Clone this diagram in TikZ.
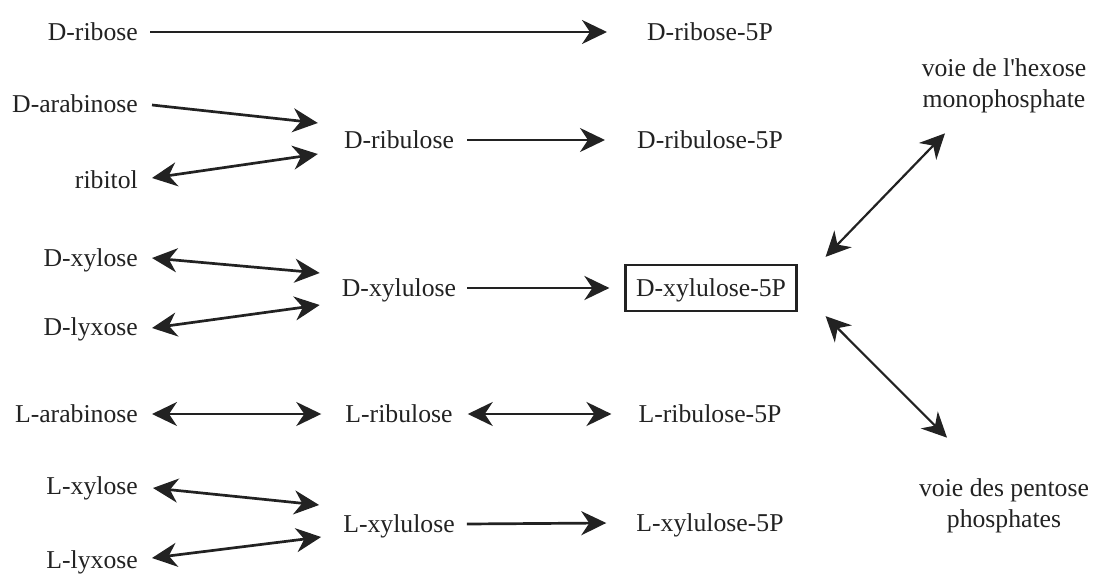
\documentclass[tikz,border=0pt]{standalone}
\usepackage{fontspec}
% plain family: no TeX ligature mapping, so the apostrophe stays straight
\newfontfamily\labelfont{Liberation Serif}
\usetikzlibrary{arrows.meta,calc}
\definecolor{ink}{HTML}{222222}
\tikzset{
  lbl/.style={inner sep=0pt, text=ink, font=\labelfont\fontsize{25.7}{31}\selectfont,
              text height=17pt, text depth=0pt},
  pathway/.style={inner sep=0pt, text=ink, font=\labelfont\fontsize{25.7}{31}\selectfont, align=center},
  keybox/.style={lbl, draw=ink, line width=2.3pt, inner xsep=10.5pt, minimum height=46pt},
  tip/.tip={Stealth[length=25pt, width=24pt, inset=8pt]},
  conv/.style={draw=ink, line width=2.7pt, -tip},
  rev/.style={draw=ink, line width=2.7pt, tip-tip},
  revthin/.style={draw=ink, line width=2.2pt, tip-tip},
}
\begin{document}
\begin{tikzpicture}[x=1pt, y=-1pt]
\useasboundingbox (0,0) rectangle (1095,575);

% left column: substrates
\node[lbl, anchor=east] (dribose) at (138,32)  {D-ribose};
\node[lbl, anchor=east] (darab)   at (138,104) {D-arabinose};
\node[lbl, anchor=east] (ribitol) at (138,180) {ribitol};
\node[lbl, anchor=east] (dxylose) at (138,258) {D-xylose};
\node[lbl, anchor=east] (dlyxose) at (138,327) {D-lyxose};
\node[lbl, anchor=east] (larab)   at (138,414) {L-arabinose};
\node[lbl, anchor=east] (lxylose) at (138,486) {L-xylose};
\node[lbl, anchor=east] (llyxose) at (138,560) {L-lyxose};

% middle column: pentuloses
\node[lbl] (dribul) at (399,140) {D-ribulose};
\node[lbl] (dxylul) at (399,288) {D-xylulose};
\node[lbl] (lribul) at (399,414) {L-ribulose};
\node[lbl] (lxylul) at (399,524) {L-xylulose};

% right column: phosphorylated forms
\node[lbl]    (dribose5p) at (710,32)  {D-ribose-5P};
\node[lbl]    (dribul5p)  at (710,140) {D-ribulose-5P};
\node[keybox] (dxylul5p)  at (711,288) {D-xylulose-5P};
\node[lbl]    (lribul5p)  at (710,414) {L-ribulose-5P};
\node[lbl]    (lxylul5p)  at (710,523) {L-xylulose-5P};

% metabolic pathways
\node[pathway] (hexose)  at (1004,86)  {voie de l'hexose\\monophosphate};
\node[pathway] (pentose) at (1004,506) {voie des pentose\\phosphates};

% conversions
\draw[conv] ($(dribose.east)+(12,0)$) -- ($(dribose5p.west)+(-40,0)$);
\draw[conv] ($(darab.east)+(14,1)$) -- ($(dribul.west)+(-26,-17)$);
\draw[rev]  ($(ribitol.east)+(14,-2)$) -- ($(dribul.west)+(-26,14)$);
\draw[conv] ($(dribul.east)+(13,0)$) -- ($(dribul5p.west)+(-32,0)$);

\draw[rev]  ($(dxylose.east)+(14,0)$) -- ($(dxylul.west)+(-22,-15)$);
\draw[rev]  ($(dlyxose.east)+(14,1)$) -- ($(dxylul.west)+(-22,17)$);
\draw[conv] ($(dxylul.east)+(11,0)$) -- ($(dxylul5p.west)+(-15,0)$);

\draw[revthin] ($(dxylul5p.north east)+(28,-7)$) -- ($(hexose.south)+(-59,20)$);
\draw[revthin] ($(dxylul5p.south east)+(28,4)$) -- ($(pentose.north)+(-57,-41)$);

\draw[rev]  ($(larab.east)+(14,0)$) -- ($(lribul.west)+(-24,0)$);
\draw[rev]  ($(lribul.east)+(15,0)$) -- ($(lribul5p.west)+(-27,0)$);

\draw[rev]  ($(lxylose.east)+(15,2)$) -- ($(lxylul.west)+(-24,-19)$);
\draw[rev]  ($(llyxose.east)+(14,-2)$) -- ($(lxylul.west)+(-22,13)$);
\draw[conv] ($(lxylul.east)+(12,0)$) -- ($(lxylul5p.west)+(-30,0)$);
\end{tikzpicture}
\end{document}
